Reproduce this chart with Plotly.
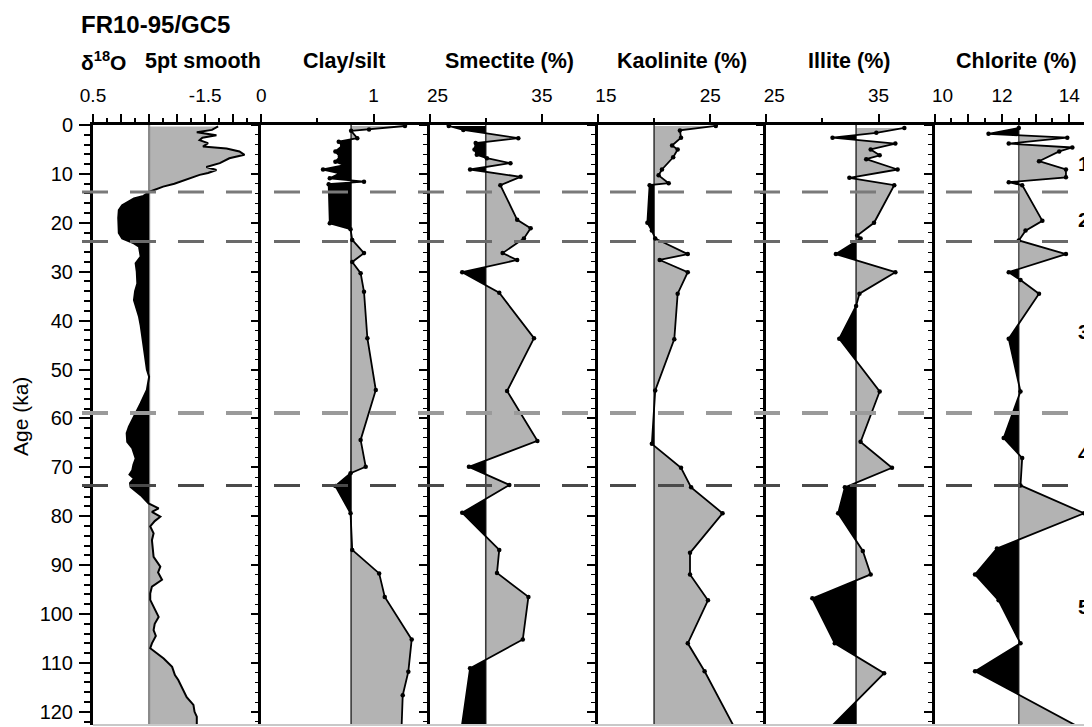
import plotly.graph_objects as go

# ---------------- data ----------------
d18o_age = [0.3, 1.0, 1.5, 2.1, 2.6, 3.1, 3.7, 4.4, 4.8, 5.4, 6.1, 6.8, 7.8, 8.6, 9.2, 9.8, 10.2,
            11.2, 12.0, 12.6, 13.6, 14.5, 15.0, 16.4, 17.4, 19.0, 21.0, 22.1, 23.2, 24.2, 24.9,
            26.0, 26.9, 28.3, 30.0, 32.4, 34.0, 35.8, 37.5, 39.2, 41.0, 43.3, 45.5, 48.1, 50.0,
            51.5, 52.5, 54.2, 56.9, 58.5, 59.7, 61.7, 63.0, 64.8, 66.1, 68.2, 69.5, 70.6, 71.5,
            72.3, 73.2, 74.0, 75.7, 77.4, 78.4, 79.1, 80.1, 81.0, 82.1, 83.5, 84.9, 86.5, 88.3,
            90.3, 91.5, 93.0, 94.4, 95.8, 97.1, 99.2, 100.6, 102.0, 103.3, 104.5, 106.0, 107.0,
            109.1, 110.8, 112.5, 113.5, 114.9, 117.0, 118.6, 120.0, 121.0, 123.0]
d18o_val = [-1.73, -1.62, -1.35, -1.70, -1.45, -1.40, -1.55, -1.46, -1.88, -2.11, -2.20, -1.93,
            -1.76, -1.52, -1.70, -1.55, -1.40, -1.17, -0.95, -0.75, -0.52, -0.40, -0.23, -0.02,
            0.04, 0.05, 0.05, 0.04, -0.02, -0.23, -0.32, -0.34, -0.35, -0.26, -0.28, -0.29,
            -0.25, -0.23, -0.28, -0.32, -0.35, -0.38, -0.40, -0.43, -0.46, -0.50, -0.49, -0.46,
            -0.35, -0.28, -0.23, -0.14, -0.10, -0.11, -0.20, -0.26, -0.22, -0.20, -0.15, -0.23,
            -0.16, -0.17, -0.35, -0.49, -0.67, -0.55, -0.70, -0.60, -0.52, -0.58, -0.55, -0.57,
            -0.58, -0.70, -0.66, -0.73, -0.55, -0.52, -0.52, -0.61, -0.67, -0.60, -0.58, -0.62,
            -0.55, -0.52, -0.76, -0.91, -0.96, -1.02, -1.08, -1.17, -1.29, -1.31, -1.35, -1.35]

clay_age = [0.2, 0.9, 1.2, 2.7, 3.4, 4.3, 5.4, 6.5, 7.5, 8.2, 9.1, 9.9, 10.9, 11.6, 12.1, 20.1,
            21.3, 23.5, 26.2, 28.0, 30.3, 34.1, 43.6, 54.2, 64.4, 69.9, 71.2, 73.8, 79.4, 86.9,
            91.7, 96.5, 105.2, 111.8, 116.6, 123.0]
clay_val = [1.28, 0.96, 0.80, 0.855, 0.69, 0.72, 0.66, 0.70, 0.66, 0.74, 0.55, 0.70, 0.61, 0.915,
            0.60, 0.61, 0.795, 0.81, 0.915, 0.81, 0.885, 0.915, 0.945, 1.02, 0.885, 0.93, 0.795,
            0.66, 0.795, 0.81, 1.05, 1.10, 1.34, 1.31, 1.26, 1.25]

smec_age = [0.2, 1.0, 2.7, 3.7, 5.0, 6.1, 6.8, 7.8, 9.1, 10.6, 12.3, 19.4, 21.1, 23.2, 26.2, 27.6,
            30.1, 34.3, 43.6, 54.4, 64.6, 69.9, 73.6, 79.3, 86.9, 91.6, 96.5, 105.2, 111.1, 124.0]
smec_val = [26.7, 28.0, 32.9, 29.1, 29.0, 29.2, 30.1, 32.2, 28.6, 33.1, 31.3, 32.8, 34.0, 33.4,
            31.5, 32.8, 27.9, 31.2, 34.3, 31.9, 34.6, 28.5, 32.1, 27.9, 31.2, 31.0, 33.8, 33.3,
            28.6, 27.8]

kaol_age = [0.2, 1.1, 2.6, 4.2, 5.0, 6.6, 9.1, 10.3, 11.9, 12.3, 20.0, 21.6, 23.2, 26.4, 27.6,
            30.1, 34.5, 43.8, 54.3, 65.2, 70.1, 74.1, 79.4, 87.5, 91.9, 97.2, 106.0, 111.7, 123.4]
kaol_val = [25.5, 22.3, 22.4, 21.6, 22.1, 21.7, 20.7, 20.4, 21.3, 19.6, 19.4, 19.8, 20.1, 23.0,
            20.5, 23.0, 22.1, 21.8, 20.1, 19.8, 22.4, 23.3, 26.1, 23.2, 23.2, 24.8, 23.0, 24.5,
            27.2]

illi_age = [0.6, 1.6, 2.6, 3.8, 5.0, 6.2, 7.0, 9.1, 10.8, 12.3, 20.0, 22.6, 23.2, 26.4, 30.1,
            34.5, 37.0, 43.7, 54.5, 64.8, 70.1, 74.1, 79.4, 87.1, 91.9, 96.8, 106.0, 112.1, 123.7]
illi_val = [37.3, 34.8, 30.9, 36.5, 34.3, 35.1, 33.9, 36.7, 32.4, 36.4, 34.6, 33.1, 33.4, 31.2,
            36.5, 33.3, 33.0, 31.5, 35.1, 33.4, 36.2, 32.0, 31.4, 33.6, 34.3, 29.1, 31.1, 35.5,
            30.5]

chlo_age = [0.6, 1.8, 2.6, 3.8, 4.6, 5.4, 7.4, 9.1, 10.7, 11.7, 12.3, 19.6, 21.6, 23.6, 26.4,
            30.1, 31.7, 34.5, 43.7, 54.5, 64.0, 68.1, 73.7, 79.4, 86.6, 91.9, 97.2, 106.0, 111.7,
            123.7]
chlo_val = [12.5, 11.6, 13.94, 12.2, 14.09, 13.7, 13.1, 13.9, 13.9, 12.2, 12.6, 13.2, 12.7, 12.5,
            13.9, 12.2, 12.55, 13.1, 12.2, 12.55, 12.05, 12.6, 12.55, 14.44, 11.85, 11.2, 11.9,
            12.55, 11.2, 14.44]

baselines = [-0.5, 0.8, 30, 20, 33, 12.5]
mis_bounds = [13.7, 23.8, 58.9, 73.7]
mis_labels = ["1", "2", "3", "4", "5"]
mis_label_age = [7.9, 19.3, 42.3, 67.1, 98.4]

headers = ["Clay/silt", "Smectite (%)", "Kaolinite (%)", "Illite (%)", "Chlorite (%)"]
y_ticks = list(range(0, 121, 10))

# ---------------- styling ----------------
FONT = "Liberation Sans, Arial, Helvetica, sans-serif"
GRAY = "#b3b3b3"
OFF = 8                       # page body margin
W, H = 1092 - OFF, 727 - OFF
ML, MT, MB = 93 - OFF, 125 - OFF, 2
PW, PH = W - ML, H - MT - MB
PANEL = 168.33
AGE_MAX = 122.7
PAD = "\u00a0\u00a0\u00a0"


def sx(p):
    # screen x pixel -> paper fraction
    return (p - 93) / PW


def sy(p):
    # screen y pixel -> paper fraction
    return (725 - p) / PH


panels = [
    dict(age=d18o_age, val=d18o_val, gray_high=False, markers=False, basecolor="#8a8a8a", basew=2.2,
         rng=[0.5, -2.5], tv=[0.5, 0, -0.5, -1, -1.5, -2, -2.5], tt=["0.5", "", "", "", "-1.5", "", ""],
         mv=[0.25, -0.25, -0.75, -1.25, -1.75, -2.25]),
    dict(age=clay_age, val=clay_val, gray_high=True, markers=True, basecolor="#3a3a3a", basew=1.6,
         rng=[0, 1.5], tv=[0, 1], tt=["0", "1"], mv=[0.5]),
    dict(age=smec_age, val=smec_val, gray_high=True, markers=True, basecolor="#3a3a3a", basew=1.6,
         rng=[25, 40], tv=[25, 35], tt=[PAD + "25", "35"], mv=[30]),
    dict(age=kaol_age, val=kaol_val, gray_high=True, markers=True, basecolor="#3a3a3a", basew=1.6,
         rng=[15, 30], tv=[15, 25], tt=[PAD + "15", "25"], mv=[20]),
    dict(age=illi_age, val=illi_val, gray_high=True, markers=True, basecolor="#3a3a3a", basew=1.6,
         rng=[25, 40], tv=[25, 35], tt=[PAD + "25", "35"], mv=[30]),
    dict(age=chlo_age, val=chlo_val, gray_high=True, markers=True, basecolor="#555555", basew=1.6,
         rng=[10, 10 + 5 * (PW - 5 * PANEL) / PANEL], tv=[10, 11, 12, 13, 14],
         tt=[PAD + "10", "", "12", "", "14"], mv=[10.5, 11.5, 12.5, 13.5, 14.5]),
]


def augment(ages, vals, base):
    pa, pv = [], []
    for i in range(len(vals)):
        if i > 0:
            v0, v1 = vals[i - 1], vals[i]
            if (v0 - base) * (v1 - base) < 0:
                t = (base - v0) / (v1 - v0)
                pa.append(ages[i - 1] + t * (ages[i] - ages[i - 1]))
                pv.append(base)
        pa.append(ages[i])
        pv.append(vals[i])
    return pa, pv


fig = go.Figure()
layout_axes = {}

for k, (p, base) in enumerate(zip(panels, baselines), start=1):
    xa = "x" if k == 1 else f"x{k}"
    ya = "y" if k == 1 else f"y{k}"
    a, v = augment(p["age"], p["val"], base)
    hi = [max(q, base) for q in v]
    lo = [min(q, base) for q in v]
    gray_v = hi if p["gray_high"] else lo
    black_v = lo if p["gray_high"] else hi
    poly_y = [a[0]] + a + [a[-1]]
    fig.add_trace(go.Scatter(x=[base] + gray_v + [base], y=poly_y, xaxis=xa, yaxis=ya,
                             fill="toself", fillcolor=GRAY, mode="lines",
                             line=dict(width=0, color=GRAY), hoverinfo="skip"))
    fig.add_trace(go.Scatter(x=[base, base], y=[-5, 130], xaxis=xa, yaxis=ya, mode="lines",
                             line=dict(width=p["basew"], color=p["basecolor"]), hoverinfo="skip"))
    fig.add_trace(go.Scatter(x=[base] + black_v + [base], y=poly_y, xaxis=xa, yaxis=ya,
                             fill="toself", fillcolor="black", mode="lines",
                             line=dict(width=0, color="black"), hoverinfo="skip"))
    fig.add_trace(go.Scatter(x=p["val"], y=p["age"], xaxis=xa, yaxis=ya,
                             mode="lines+markers" if p["markers"] else "lines",
                             line=dict(width=1.8 if p["markers"] else 2, color="black"),
                             marker=dict(size=4.5, color="black")))

    d0 = (k - 1) * PANEL / PW
    d1 = min(1.0, k * PANEL / PW)
    layout_axes["xaxis" if k == 1 else f"xaxis{k}"] = dict(
        domain=[d0, d1], range=p["rng"], side="top", anchor=ya,
        showline=True, linewidth=3, linecolor="black",
        ticks="outside", ticklen=8, tickwidth=2, tickcolor="black",
        tickmode="array", tickvals=p["tv"], ticktext=p["tt"],
        minor=dict(ticks="outside", ticklen=4, tickwidth=1.5, tickcolor="black",
                   tickmode="array", tickvals=p["mv"], showgrid=False),
        ticklabelstandoff=4,
        showgrid=False, zeroline=False, fixedrange=True,
        tickfont=dict(family=FONT, size=19, color="black"))
    ydict = dict(domain=[0, 1], anchor=xa, range=[AGE_MAX, 0],
                 showline=True, linecolor="black",
                 ticks="outside", tickcolor="black",
                 tickmode="array", tickvals=y_ticks,
                 showgrid=False, zeroline=False, fixedrange=True)
    if k == 1:
        ydict.update(linewidth=3, ticklen=11, tickwidth=2, showticklabels=True,
                     ticklabelstandoff=2,
                     tickfont=dict(family=FONT, size=20, color="black"),
                     minor=dict(ticks="outside", ticklen=6, tickwidth=1.5, tickcolor="black",
                                dtick=2, tick0=0, showgrid=False))
    else:
        ydict.update(matches="y", linewidth=2.5, ticklen=8, tickwidth=1.5, showticklabels=False,
                     minor=dict(ticks="outside", ticklen=4, tickwidth=1.2, tickcolor="black",
                                dtick=2, tick0=0, showgrid=False))
    layout_axes["yaxis" if k == 1 else f"yaxis{k}"] = ydict

shapes = []
dash_styles = [("#7a7a7a", 3), ("#6a6a6a", 3), ("#9a9a9a", 4), ("#4a4a4a", 3)]
for age_b, (col, wd) in zip(mis_bounds, dash_styles):
    shapes.append(dict(type="line", xref="paper", yref="y", x0=sx(82), x1=1, y0=age_b, y1=age_b,
                       line=dict(color=col, width=wd, dash="26px,22px"), layer="above"))
shapes.append(dict(type="line", xref="paper", yref="paper", x0=0, x1=1, y0=0, y1=0,
                   line=dict(color="#c8c8c8", width=2), layer="above"))

annotations = []
annotations.append(dict(text="<b>FR10-95/GC5</b>", xref="paper", yref="paper", x=sx(79), y=sy(25),
                        xanchor="left", yanchor="middle", showarrow=False,
                        font=dict(family=FONT, size=24, color="black")))
annotations.append(dict(text="<b>δ<sup>18</sup>O</b>", xref="paper", yref="paper", x=sx(79), y=sy(61),
                        xanchor="left", yanchor="middle", showarrow=False,
                        font=dict(family=FONT, size=21, color="black")))
annotations.append(dict(text="<b>5pt smooth</b>", xref="paper", yref="paper", x=sx(143), y=sy(61),
                        xanchor="left", yanchor="middle", showarrow=False,
                        font=dict(family=FONT, size=21.5, color="black")))
header_centers = [343.5, 509, 682, 848.6, 1016]
for txt, cx in zip(headers, header_centers):
    annotations.append(dict(text=f"<b>{txt}</b>", xref="paper", yref="paper", x=sx(cx), y=sy(61),
                            xanchor="center", yanchor="middle", showarrow=False,
                            font=dict(family=FONT, size=21.5, color="black")))
for lab, ag in zip(mis_labels, mis_label_age):
    annotations.append(dict(text=f"<b>{lab}</b>", xref="paper", yref="y", x=sx(1091), y=ag,
                            xanchor="right", yanchor="middle", showarrow=False, borderpad=0,
                            font=dict(family=FONT, size=21, color="black")))
annotations.append(dict(text="Age (ka)", xref="paper", yref="paper", x=sx(20), y=sy(417),
                        xanchor="center", yanchor="middle", textangle=-90, showarrow=False,
                        font=dict(family=FONT, size=21, color="black")))

fig.update_layout(
    width=W, height=H,
    margin=dict(l=ML, r=0, t=MT, b=MB, autoexpand=False),
    paper_bgcolor="white", plot_bgcolor="white",
    showlegend=False,
    font=dict(family=FONT, color="black"),
    shapes=shapes, annotations=annotations,
    **layout_axes,
)

fig.write_html("out.html")
